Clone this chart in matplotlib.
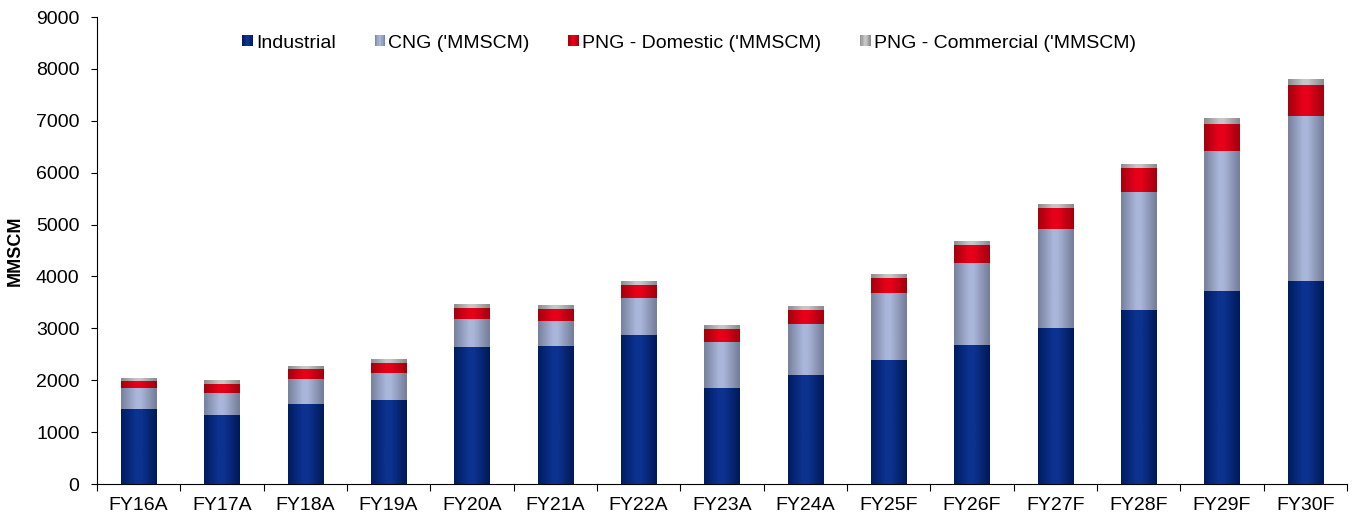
import matplotlib

matplotlib.use("Agg")
import matplotlib.pyplot as plt  # noqa: E402
import numpy as np  # noqa: E402
from matplotlib.colors import LinearSegmentedColormap  # noqa: E402
from matplotlib.legend_handler import HandlerBase  # noqa: E402
from matplotlib.patches import Rectangle  # noqa: E402

plt.rcParams["font.family"] = ["Liberation Sans", "DejaVu Sans"]

YEARS = ["FY16A", "FY17A", "FY18A", "FY19A", "FY20A", "FY21A", "FY22A", "FY23A",
         "FY24A", "FY25F", "FY26F", "FY27F", "FY28F", "FY29F", "FY30F"]
INDUSTRIAL = [1445, 1330, 1541, 1618, 2640, 2659, 2871, 1850,
              2100, 2389, 2678, 3006, 3353, 3719, 3911]
CNG = [405, 423, 482, 521, 539, 481, 713, 886,
       983, 1291, 1580, 1907, 2273, 2697, 3180]
PNG_DOMESTIC = [135, 174, 193, 192, 212, 232, 250, 251,
                270, 289, 347, 405, 463, 520, 597]
PNG_COMMERCIAL = [57, 58, 40, 58, 58, 58, 77, 77,
                  77, 77, 77, 77, 77, 97, 115]

SERIES = [
    ("Industrial", INDUSTRIAL, ("#001c60", "#0d3391", "#001a58")),
    ("CNG ('MMSCM)", CNG, ("#77819e", "#aab6da", "#737d99")),
    ("PNG - Domestic ('MMSCM)", PNG_DOMESTIC, ("#a3000e", "#e8001a", "#a0000e")),
    ("PNG - Commercial ('MMSCM)", PNG_COMMERCIAL, ("#8c8c8c", "#c6c6c6", "#8a8a8a")),
]
BAR_WIDTH = 0.42


def shade_cmap(edge, peak, edge_r):
    # dark edges, bright band a little left of centre (cylinder-ish look)
    return LinearSegmentedColormap.from_list(
        "shade", [(0.0, edge), (0.42, peak), (0.55, peak), (1.0, edge_r)]
    )


class GradientHandler(HandlerBase):
    def __init__(self, cmap, n=8):
        super().__init__()
        self.cmap = cmap
        self.n = n

    def create_artists(self, legend, orig_handle, xdescent, ydescent,
                       width, height, fontsize, trans):
        side = min(width, height)
        x0 = -xdescent + (width - side) / 2
        y0 = -ydescent + (height - side) / 2
        step = side / self.n
        parts = []
        for i in range(self.n):
            parts.append(Rectangle((x0 + i * step, y0), step * 1.05, side,
                                   facecolor=self.cmap((i + 0.5) / self.n),
                                   edgecolor="none", transform=trans))
        return parts


fig = plt.figure(figsize=(13.52, 5.2), dpi=100)
ax = fig.add_axes([0.0717, 0.0692, 0.9246, 0.8981])

x = np.arange(len(YEARS))
bottom = np.zeros(len(YEARS))
grad = np.linspace(0, 1, 64).reshape(1, -1)
handles, handler_map = [], {}
for label, values, cols in SERIES:
    cmap = shade_cmap(*cols)
    bars = ax.bar(x, values, BAR_WIDTH, bottom=bottom, color=cols[1],
                  linewidth=0, label=label, zorder=2)
    for patch in bars:
        bx, by = patch.get_x(), patch.get_y()
        ax.imshow(grad, cmap=cmap, aspect="auto", interpolation="bicubic",
                  extent=(bx, bx + patch.get_width(), by, by + patch.get_height()),
                  zorder=3)
    bottom += np.asarray(values)
    handles.append(bars)
    handler_map[bars] = GradientHandler(cmap)

ax.set_xlim(-0.5, len(YEARS) - 0.5)
ax.set_ylim(0, 9000)
ax.set_yticks(np.arange(0, 9001, 1000))
ax.set_xticks(x, YEARS)
ax.set_xticks(np.arange(-0.5, len(YEARS), 1.0), minor=True)
ax.tick_params(axis="x", which="major", length=0, pad=9, labelsize=14)
ax.tick_params(axis="x", which="minor", length=5, width=0.8, direction="out")
ax.tick_params(axis="y", length=4.5, width=0.8, labelsize=14, pad=8)
ax.spines[["top", "right"]].set_visible(False)
for side in ("left", "bottom"):
    ax.spines[side].set_linewidth(0.8)
ax.set_ylabel("MMSCM", fontsize=13, fontweight="bold", labelpad=9)

fig.legend(handles, [s[0] for s in SERIES], handler_map=handler_map,
           loc="center", bbox_to_anchor=(689 / 1352, 0.917), ncol=4,
           frameon=False, fontsize=14, handlelength=0.55, handleheight=0.55,
           handletextpad=0.15, columnspacing=2.0, borderpad=0.2)

fig.savefig("out.png", dpi=100)
